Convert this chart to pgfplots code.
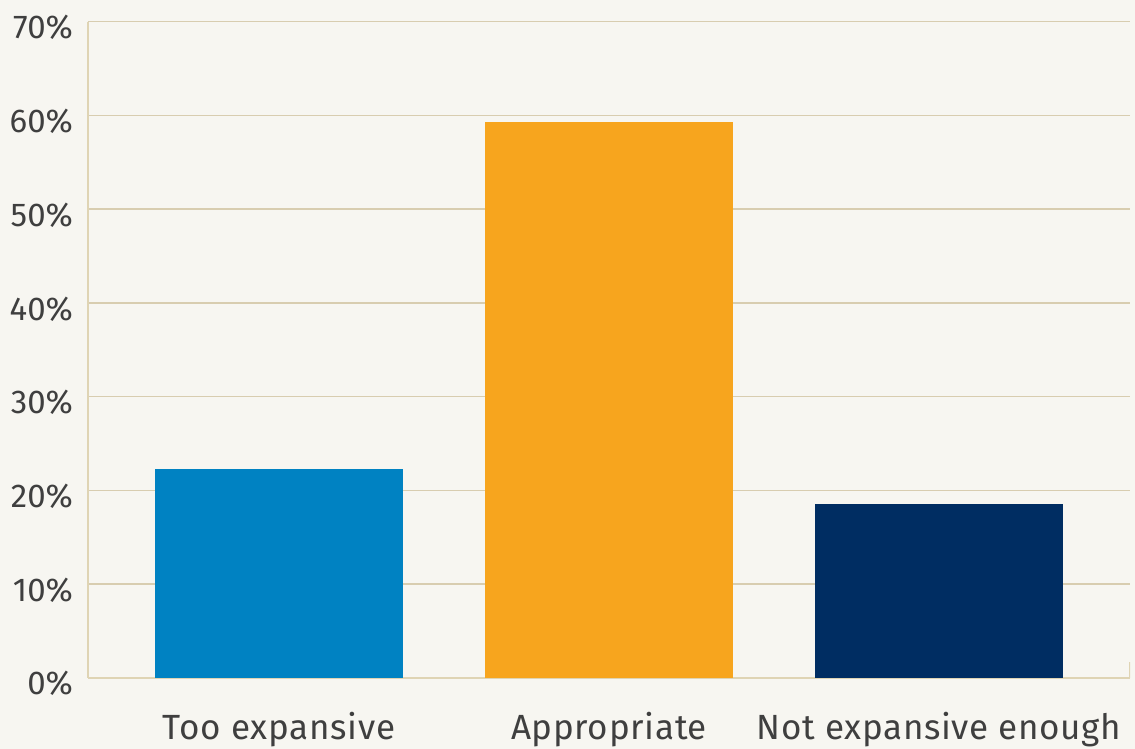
\documentclass[border=0pt]{standalone}
\usepackage{pgfplots}
\pgfplotsset{compat=1.18}
\usepackage{fontspec}
\setmainfont{Fira Sans}
\definecolor{bg}{HTML}{F7F6F1}
\definecolor{gridc}{HTML}{D8CDB0}
\definecolor{axc}{HTML}{DFD4B4}
\definecolor{txt}{HTML}{3F3F3F}
\definecolor{c1}{HTML}{0082C2}
\definecolor{c2}{HTML}{F7A51E}
\definecolor{c3}{HTML}{002D62}
\begin{document}
\begin{tikzpicture}
\fill[bg] (-44pt,-35.5pt) rectangle (523.5pt,338.85pt);
\useasboundingbox (-44pt,-35.5pt) rectangle (523.5pt,338.85pt);
\begin{axis}[
  at={(0,0)}, anchor=south west,
  scale only axis, width=521pt, height=328pt,
  xmin=-0.579, xmax=2.579, ymin=0, ymax=70,
  ybar, bar width=0.75, bar shift=0pt,
  xtick={0,1,2}, xticklabels={Too expansive, Appropriate, Not expansive enough},
  ytick={0,10,...,70}, yticklabels={0\%,10\%,20\%,30\%,40\%,50\%,60\%,70\%},
  major tick length=0pt,
  ymajorgrids, grid style={gridc, line width=0.75pt},
  axis x line*=bottom, axis y line*=left,
  axis line style={axc, line width=0.9pt, -},
  yticklabel style={font=\fontsize{16.5}{20}\selectfont, text=txt, xshift=-4pt, yshift=-3pt},
  xticklabel style={font=\addfontfeatures{LetterSpace=2}\fontsize{17.5}{20}\selectfont, text=txt, yshift=-13.5pt},
]
\addplot[fill=c1, draw=none] coordinates {(0,22.3)};
\addplot[fill=c2, draw=none] coordinates {(1,59.3)};
\addplot[fill=c3, draw=none] coordinates {(2,18.5)};
\draw[axc, line width=0.9pt] (rel axis cs:1,0) -- ([yshift=8pt]rel axis cs:1,0);
\end{axis}
\end{tikzpicture}
\end{document}
